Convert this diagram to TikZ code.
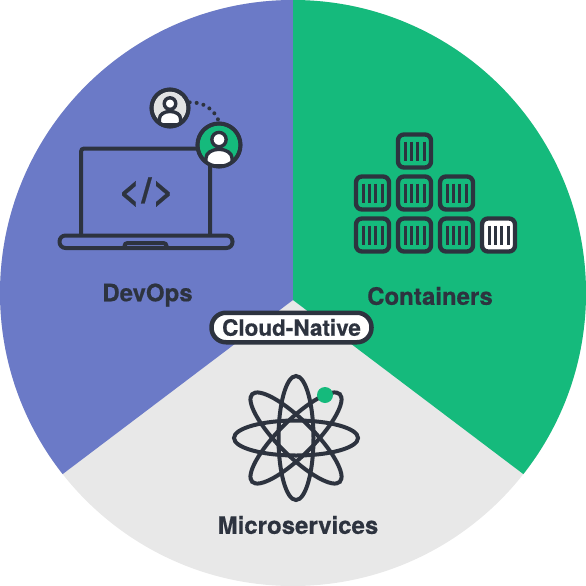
\documentclass[tikz,border=0pt]{standalone}
\usepackage{xcolor}
\usepackage{fontspec}
\setmainfont[BoldFeatures={FakeBold=0.5}]{TeX Gyre Heros}
\usetikzlibrary{positioning}
\definecolor{azul}{HTML}{6B7AC7}
\definecolor{verde}{HTML}{15BA7C}
\definecolor{gris}{HTML}{E8E8E8}
\definecolor{grisav}{HTML}{E2E3E3}
\definecolor{oscuro}{HTML}{2D333F}
\newcommand{\persona}[4]{%
  \begin{scope}
    \clip (#1,#2) circle (#3);
    \draw[trazo,line width=3.4pt,fill=white] (#1-#4,#2+#4*1.6) -- (#1-#4,#2+#4) arc[x radius=#4,y radius=#4*0.67,start angle=180,end angle=360] -- (#1+#4,#2+#4*1.6) -- cycle;
  \end{scope}
  \draw[trazo,line width=3.6pt] (#1,#2) circle (#3);
  \draw[trazo,line width=3.4pt,fill=white] (#1,#2-#4*0.42) circle (#4*0.55);
}
\tikzset{
  x=1pt,y=-1pt,
  trazo/.style={draw=oscuro,line width=4pt},
  rotulo/.style={font=\fontsize{24}{28}\selectfont\bfseries,text=oscuro,inner sep=0pt},
  avatar/.style={circle,trazo,inner sep=0pt},
  contenedor/.style={trazo,line width=4.4pt,rounded corners=6pt,minimum size=33pt,inner sep=0pt},
  barra/.style={draw=oscuro,line width=3pt},
  orbita/.style={trazo},
  punteado/.style={draw=oscuro,line width=4pt,line cap=round,dash pattern=on 0pt off 7pt},
}
\begin{document}
\begin{tikzpicture}
  \useasboundingbox (0,0) rectangle (586,586);
  % sectores
  \begin{scope}
    \clip (293,293) circle (293);
    \fill[gris] (0,0) rectangle (586,586);
    \fill[azul] (293,300) -- (293,-5) -- (-10,-5) -- (-10,529) -- cycle;
    \fill[verde] (293,300) -- (293,-5) -- (596,-5) -- (596,529) -- cycle;
  \end{scope}
  % portatil
  \draw[trazo,rounded corners=3pt] (81,235) -- (81,148.5) -- (210,148.5) -- (210,235);
  \draw[trazo,rounded corners=6pt] (59.5,235.5) rectangle (232.5,248);
  \draw[trazo,rounded corners=3pt] (124.5,248) -- (124.5,243) -- (166.5,243) -- (166.5,248);
  \node[font=\fontsize{36}{36}\selectfont\bfseries,text=oscuro,inner sep=0pt] (codigo) at (146.5,192) {<\kern1.5pt/\kern1.5pt>};
  % usuarios
  \node[avatar,fill=grisav,minimum size=37pt] (usuariogris) at (170,108) {};
  \node[avatar,fill=verde,minimum size=43pt] (usuarioverde) at (219,145) {};
  \draw[punteado] (usuariogris.16) to[bend left=35] (usuarioverde.north);
  \persona{170}{108}{18.5}{10.5}
  \persona{219}{145}{21.5}{13}
  % contenedores
  \foreach \col/\fila/\nombre in {414.5/151/a,372.5/193/b,414.5/193/c,456.5/193/d,372.5/235/e,414.5/235/f,456.5/235/g}{
    \node[contenedor] (caja\nombre) at (\col,\fila) {};
    \foreach \d in {-9.5,-3.2,3.2,9.5}
      \draw[barra] ([xshift=\d pt,yshift=9.5pt]caja\nombre.center) -- ([xshift=\d pt,yshift=-9.5pt]caja\nombre.center);
  }
  \node[contenedor,fill=white] (cajah) at (498.5,235) {};
  \foreach \d in {-9.5,-3.2,3.2,9.5}
    \draw[barra] ([xshift=\d pt,yshift=9.5pt]cajah.center) -- ([xshift=\d pt,yshift=-9.5pt]cajah.center);
  % atomo
  \foreach \a in {0,45,90,135}
    \draw[orbita,rotate around={\a:(296,438)}] (296,438) ellipse [x radius=62,y radius=17.5];
  \node[circle,fill=verde,minimum size=16pt,inner sep=0pt] (electron) at (325,395) {};
  % rotulos
  \node[rotulo] (devops) at (147.5,295) {DevOps};
  \node[rotulo] (containers) at (430,296) {Containers};
  \node[rotulo] (micro) at (298,525) {Microservices};
  \node[rotulo,trazo,line width=4.5pt,font=\fontsize{22.5}{26}\selectfont\bfseries,fill=white,rounded corners=14.5pt,minimum width=160pt,minimum height=29.5pt] (nube) at (291.5,327.5) {Cloud-Native};
\end{tikzpicture}
\end{document}
